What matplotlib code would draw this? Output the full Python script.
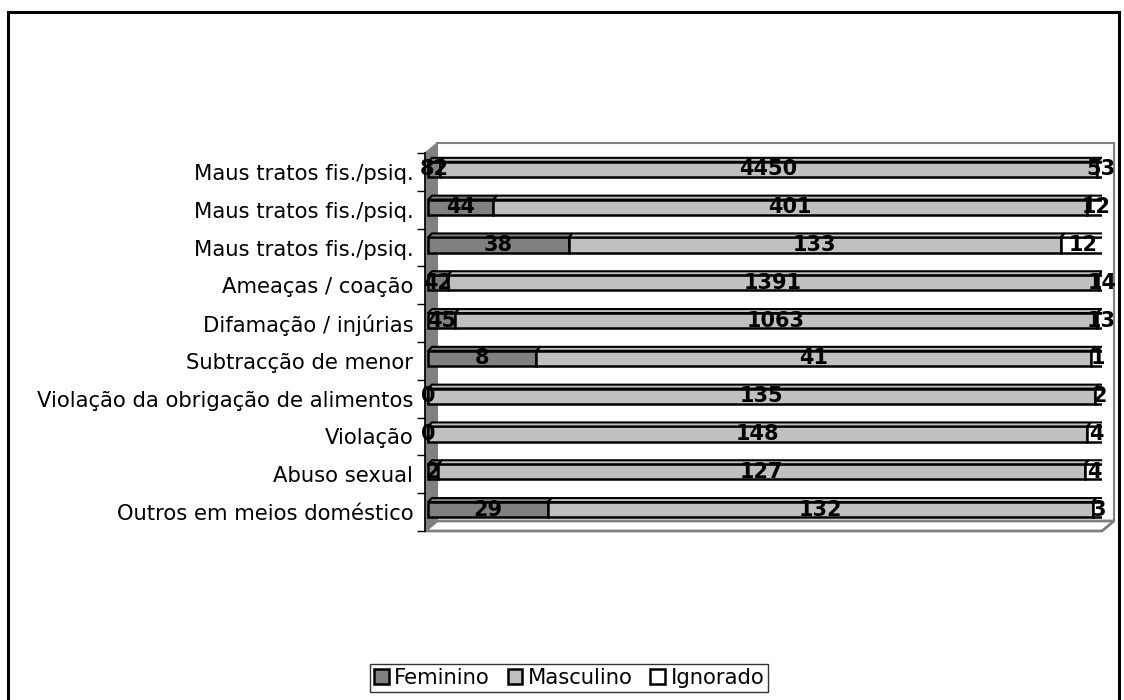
import matplotlib
matplotlib.use('Agg')
import matplotlib.pyplot as plt
import matplotlib.transforms as mtransforms
from matplotlib.patches import Polygon, Rectangle, Patch
import numpy as np

# data, top row first (as shown in the chart)
categories = ['Maus tratos fis./psiq.', 'Maus tratos fis./psiq.', 'Maus tratos fis./psiq.',
              'Ameaças / coação', 'Difamação / injúrias', 'Subtracção de menor',
              'Violação da obrigação de alimentos', 'Violação', 'Abuso sexual',
              'Outros em meios doméstico']
feminino = [82, 44, 38, 42, 45, 8, 0, 0, 2, 29]
masculino = [4450, 401, 133, 1391, 1063, 41, 135, 148, 127, 132]
ignorado = [53, 12, 12, 14, 13, 1, 2, 4, 4, 3]

series_names = ['Feminino', 'Masculino', 'Ignorado']
colors = ['#808080', '#C0C0C0', '#FFFFFF']

W, H = 1124, 700
fig = plt.figure(figsize=(W / 100, H / 100), dpi=100)
ax = fig.add_axes([425 / W, 169 / H, 677 / W, 378 / H])
ax.set_xlim(0, 100)
ax.set_ylim(-0.5, len(categories) - 0.5)
ax.patch.set_visible(False)

# 3d walls
dxa, dya = 12 / 677, 10 / 378
back = Rectangle((dxa, dya), 1, 1, transform=ax.transAxes, fc='white', ec='#808080',
                 lw=1.5, clip_on=False, zorder=0.3)
floor = Polygon([(0, 0), (1, 0), (1 + dxa, dya), (dxa, dya)], closed=True,
                transform=ax.transAxes, fc='white', ec='#808080', lw=2, clip_on=False, zorder=0.4)
wall = Polygon([(0, 0), (0, 1), (dxa, 1 + dya), (dxa, dya)], closed=True,
               transform=ax.transAxes, fc='#808080', ec='#808080', lw=0.8, clip_on=False, zorder=0.5)
for p in (back, floor, wall):
    ax.add_patch(p)

# bars sit a little behind the front plane
tr = ax.transData + mtransforms.ScaledTranslation(3 / 100, 2.5 / 100, fig.dpi_scale_trans)
bh = 0.4
ddx = 4 / 677 * 100
ddy = 4 / 37.8

data = np.array([feminino, masculino, ignorado], dtype=float)
totals = data.sum(axis=0)
pct = data / totals * 100
ypos = np.arange(len(categories))[::-1]

for i, y in enumerate(ypos):
    left = 0.0
    for s in range(3):
        w = pct[s, i]
        bars = ax.barh(y, w, left=left, height=bh, color=colors[s], edgecolor='black',
                       linewidth=1.8, zorder=3)
        bars[0].set_transform(tr)
        top = y + bh / 2
        face = Polygon([(left, top), (left + ddx, top + ddy), (left + w + ddx, top + ddy), (left + w, top)],
                       closed=True, fc=colors[s], ec='black', lw=1.5, transform=tr, zorder=3)
        ax.add_patch(face)
        if s == 2:
            r = left + w
            side = Polygon([(r, y - bh / 2), (r, top), (r + ddx, top + ddy), (r + ddx, y - bh / 2 + ddy)],
                           closed=True, fc=colors[s], ec='black', lw=1.5, transform=tr, zorder=3)
            ax.add_patch(side)
        ax.text(left + w / 2, y, str(int(data[s, i])), ha='center', va='center',
                fontsize=15, fontweight='bold', color='black', transform=tr, zorder=5)
        left += w

# axis
for sp in ['top', 'right', 'bottom']:
    ax.spines[sp].set_visible(False)
ax.spines['left'].set_color('black')
ax.spines['left'].set_linewidth(1.2)
ax.spines['left'].set_zorder(2)
ax.set_xticks([])
ax.set_yticks(np.arange(-0.5, len(categories), 1))
ax.set_yticklabels([])
ax.tick_params(axis='y', which='major', length=6, width=1, color='black', direction='out')
ax.set_yticks(ypos, minor=True)
ax.set_yticklabels(categories, minor=True)
ax.tick_params(axis='y', which='minor', length=0, pad=8.5, labelsize=15.2)

handles = [Patch(fc=c, ec='black', lw=1.8) for c in colors]
leg = fig.legend(handles, series_names, loc='center', bbox_to_anchor=(569 / W, 1 - 678 / H),
                 ncol=3, fontsize=15.2, frameon=True, fancybox=False, handlelength=0.7,
                 handleheight=0.7, handletextpad=0.25, columnspacing=0.85, borderpad=0.2,
                 borderaxespad=0)
leg.get_frame().set_edgecolor('black')
leg.get_frame().set_linewidth(1)

# outer chart border
border = Rectangle((8 / W, -0.05), (1119 - 8) / W, 1 - 12 / H + 0.05, transform=fig.transFigure,
                   fill=False, ec='black', lw=2.2)
fig.add_artist(border)

fig.savefig('out.png', dpi=100)
